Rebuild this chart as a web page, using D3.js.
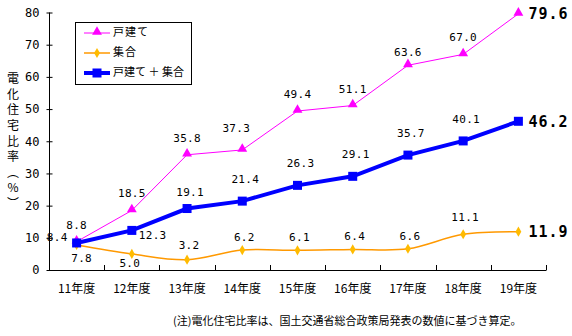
<!DOCTYPE html>
<html><head><meta charset="utf-8">
<script src="https://cdn.jsdelivr.net/npm/d3@7"></script>
<style>
body{margin:0;background:#fff;}
svg{display:block;}
.num{font-family:"DejaVu Sans Mono",monospace;font-size:11px;fill:#000;}
.jp{font-family:"Noto Sans CJK JP",sans-serif;fill:#000;}
</style></head>
<body>
<script>
const categories = ["11年度","12年度","13年度","14年度","15年度","16年度","17年度","18年度","19年度"];
const detached = [8.8,18.5,35.8,37.3,49.4,51.1,63.6,67.0,79.6];
const collective = [7.8,5.0,3.2,6.2,6.1,6.4,6.6,11.1,11.9];
const total = [8.4,12.3,19.1,21.4,26.3,29.1,35.7,40.1,46.2];
const yTicks = [0,10,20,30,40,50,60,70,80];
const seriesNames = ["戸建て","集合","戸建て ＋ 集合"];

const W=572,H=336;
const svg=d3.select("body").append("svg").attr("width",W).attr("height",H);
const x=d3.scaleBand().domain(categories).range([49,546]).padding(0);
const y=d3.scaleLinear().domain([0,80]).range([270,12.5]);
const cx=c=>x(c)+x.bandwidth()/2;

// y axis
const ya=svg.append("g").attr("transform","translate(49.5,0)")
  .call(d3.axisLeft(y).tickValues(yTicks).tickSize(3).tickFormat(d3.format("d")));
ya.select(".domain").attr("d","M0,12.5V270").attr("stroke","#000");
ya.selectAll(".tick line").attr("x2",3).attr("x1",-3).attr("stroke","#000");
ya.selectAll(".tick text").attr("x",-10).attr("class","num").style("font-size","12px");
ya.attr("font-family",null).attr("font-size",null);

// x axis
const xa=svg.append("g").attr("transform","translate(0,270.5)")
  .call(d3.axisBottom(x).tickSize(0).tickPadding(12));
xa.select(".domain").attr("d","M49,0H546.5").attr("stroke","#000");
xa.selectAll(".tick text").attr("class","jp").style("font-size","12px").attr("dy","0.9em");
xa.attr("font-family",null).attr("font-size",null);
const bounds=categories.map(c=>x(c)).concat([x(categories[8])+x.bandwidth()]);
svg.append("g").selectAll("line").data(bounds.slice(1)).join("line")
  .attr("x1",d=>Math.round(d)+0.5).attr("x2",d=>Math.round(d)+0.5)
  .attr("y1",265).attr("y2",270).attr("stroke","#000");

// y title
const ytitle=["電","化","住","宅","比","率","︵","%","︶"];
svg.append("g").selectAll("text").data(ytitle).join("text")
  .attr("class","jp").attr("x",13).attr("y",(d,i)=>80+i*15.6)
  .attr("text-anchor","middle").attr("dominant-baseline","middle")
  .style("font-size","12px").text(d=>d);

// lines
const pts=arr=>arr.map((v,i)=>[cx(categories[i]),y(v)]);
svg.append("path").attr("d",d3.line().curve(d3.curveCatmullRom)(pts(collective)))
  .attr("fill","none").attr("stroke","#FF9900").attr("stroke-width",1.5);
svg.append("path").attr("d",d3.line()(pts(detached)))
  .attr("fill","none").attr("stroke","#FF00FF").attr("stroke-width",1);
svg.append("path").attr("d",d3.line()(pts(total)))
  .attr("fill","none").attr("stroke","#0000FF").attr("stroke-width",4);

// markers
const tri=d3.symbol().type(d3.symbolTriangle).size(42);
const dia=d3.symbol().type(d3.symbolDiamond).size(30);
svg.append("g").selectAll("path").data(pts(detached)).join("path")
  .attr("transform",d=>`translate(${d[0]},${d[1]-1})`).attr("d",tri()).attr("fill","#FF00FF");
svg.append("g").selectAll("path").data(pts(collective)).join("path")
  .attr("transform",d=>`translate(${d[0]},${d[1]})`).attr("d",dia()).attr("fill","#FFBB00");
svg.append("g").selectAll("rect").data(pts(total)).join("rect")
  .attr("x",d=>d[0]-4.5).attr("y",d=>d[1]-4.5).attr("width",9).attr("height",9).attr("fill","#0000FF");

// value labels
function labels(arr,place){
  const g=svg.append("g");
  arr.forEach((v,i)=>{
    const px=cx(categories[i]),py=y(v);
    const last=i===arr.length-1;
    const p=last?{dx:10,dy:1,a:"start"}:place(i);
    g.append("text").attr("class","num")
      .attr("x",px+p.dx).attr("y",py+p.dy)
      .attr("text-anchor",p.a||"middle").attr("dominant-baseline","middle")
      .style("font-size",last?"15px":"11px").style("font-weight",last?"bold":"normal")
      .style("letter-spacing",last?"1px":"0.3px")
      .text(v.toFixed(1));
  });
}
labels(detached,i=>({dx:i===3?-6:0,dy:i===3?-21:(i===6?-12:-16)}));
labels(total,i=>i===0?{dx:-9,dy:-5,a:"end"}:(i===1?{dx:7,dy:6,a:"start"}:{dx:3,dy:i===2?-16:-21}));
labels(collective,i=>i===0?{dx:5,dy:14}:(i===1?{dx:-2,dy:10}:{dx:2,dy:(i===2?-14:(i===7?-16:-12))}));

// legend
const lg=svg.append("g");
lg.append("rect").attr("x",75.5).attr("y",22.5).attr("width",116).attr("height",62)
  .attr("fill","#fff").attr("stroke","#000").attr("stroke-width",1);
const rows=[33,53,73];
const colors=["#FF00FF","#FF9900","#0000FF"];
const widths=[1,1.5,4];
rows.forEach((ry,i)=>{
  lg.append("line").attr("x1",84).attr("x2",110).attr("y1",ry).attr("y2",ry)
    .attr("stroke",colors[i]).attr("stroke-width",widths[i]);
  if(i===0) lg.append("path").attr("transform",`translate(97,${ry-1})`).attr("d",tri()).attr("fill","#FF00FF");
  if(i===1) lg.append("path").attr("transform",`translate(97,${ry})`).attr("d",dia()).attr("fill","#FFBB00");
  if(i===2) lg.append("rect").attr("x",92.5).attr("y",ry-4.5).attr("width",9).attr("height",9).attr("fill","#0000FF");
  lg.append("text").attr("class","jp").attr("x",113).attr("y",ry).attr("text-anchor","start")
    .attr("dominant-baseline","middle").style("font-size","11px").style("letter-spacing",i===2?"0px":"1px")
    .text(seriesNames[i]);
});

// note
svg.append("text").attr("class","jp").attr("x",173).attr("y",322).attr("text-anchor","start")
  .attr("dominant-baseline","middle").style("font-size","11px")
  .text("(注)電化住宅比率は、国土交通省総合政策局発表の数値に基づき算定。");
</script>
</body></html>
